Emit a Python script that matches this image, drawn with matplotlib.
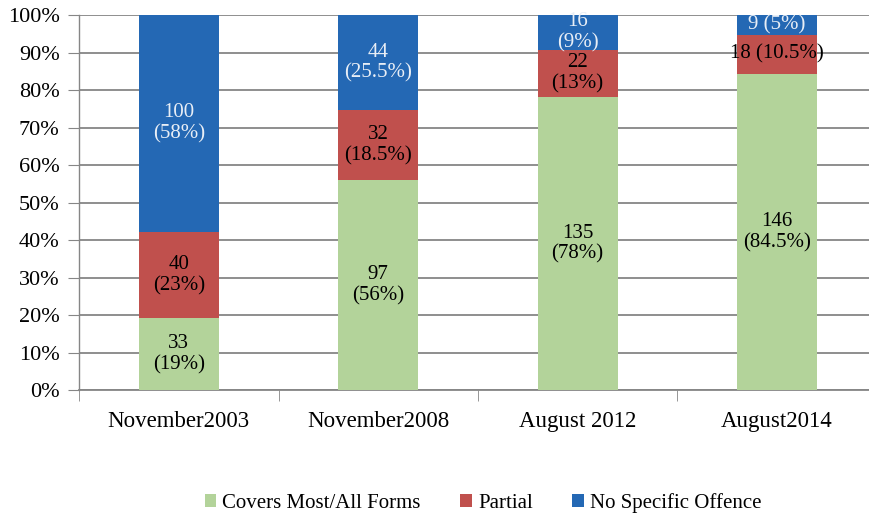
import numpy as np
import matplotlib.pyplot as plt

plt.rcParams['font.family'] = ['Liberation Serif', 'DejaVu Serif']

periods = ['November2003', 'November2008', 'August 2012', 'August2014']
covers = [33, 97, 135, 146]
partial = [40, 32, 22, 18]
no_offence = [100, 44, 16, 9]

covers_lbl = ['33\n(19%)', '97\n(56%)', '135\n(78%)', '146\n(84.5%)']
partial_lbl = ['40\n(23%)', '32\n(18.5%)', '22\n(13%)', '18 (10.5%)']
no_offence_lbl = ['100\n(58%)', '44\n(25.5%)', '16\n(9%)', '9 (5%)']

colors = ['#B3D39A', '#C0504D', '#2468B4']
names = ['Covers Most/All Forms', 'Partial', 'No Specific Offence']

fig = plt.figure(figsize=(8.69, 5.17), dpi=100)
ax = fig.add_axes([0.091, 0.2456, 0.918, 0.7253])

x = np.arange(len(periods))
totals = np.array(covers) + np.array(partial) + np.array(no_offence)
series = [np.array(covers) / totals, np.array(partial) / totals, np.array(no_offence) / totals]
labels = [covers_lbl, partial_lbl, no_offence_lbl]
text_colors = ['black', 'black', '#E8EEF6']

bottom = np.zeros(len(periods))
for vals, col, name, lbls, tc in zip(series, colors, names, labels, text_colors):
    ax.bar(x, vals, width=0.4, bottom=bottom, color=col, label=name, zorder=3)
    for xi, b, v, s in zip(x, bottom, vals, lbls):
        ax.text(xi, b + v / 2, s, ha='center', va='center', fontsize=15,
                color=tc, linespacing=1.15, zorder=4)
    bottom += vals

ax.set_xlim(-0.5, 3.5)
ax.set_ylim(0, 1)
ax.set_yticks(np.arange(0, 1.01, 0.1))
ax.set_yticklabels([f'{int(round(v * 100))}%' for v in np.arange(0, 1.01, 0.1)], fontsize=16)
ax.set_xticks(x)
ax.set_xticklabels(periods, fontsize=16.5)
ax.set_xticks(np.arange(-0.5, 4, 1), minor=True)
ax.tick_params(axis='x', which='major', length=0, pad=15)
ax.tick_params(axis='x', which='minor', length=8, color='#868686')
ax.tick_params(axis='y', length=8, color='#868686', pad=6)
ax.grid(axis='y', color='#868686', linewidth=1.3, zorder=0)

for s in ['top', 'right']:
    ax.spines[s].set_visible(False)
ax.spines['left'].set_color('#868686')
ax.spines['bottom'].set_color('#868686')
ax.spines['left'].set_linewidth(1.0)
ax.spines['bottom'].set_linewidth(1.3)

fig.legend(loc='center', bbox_to_anchor=(0.556, 0.027), ncol=3, frameon=False,
           fontsize=15, handlelength=0.55, handleheight=0.55, handletextpad=0.3,
           columnspacing=1.9)

plt.savefig('out.png', dpi=100)
